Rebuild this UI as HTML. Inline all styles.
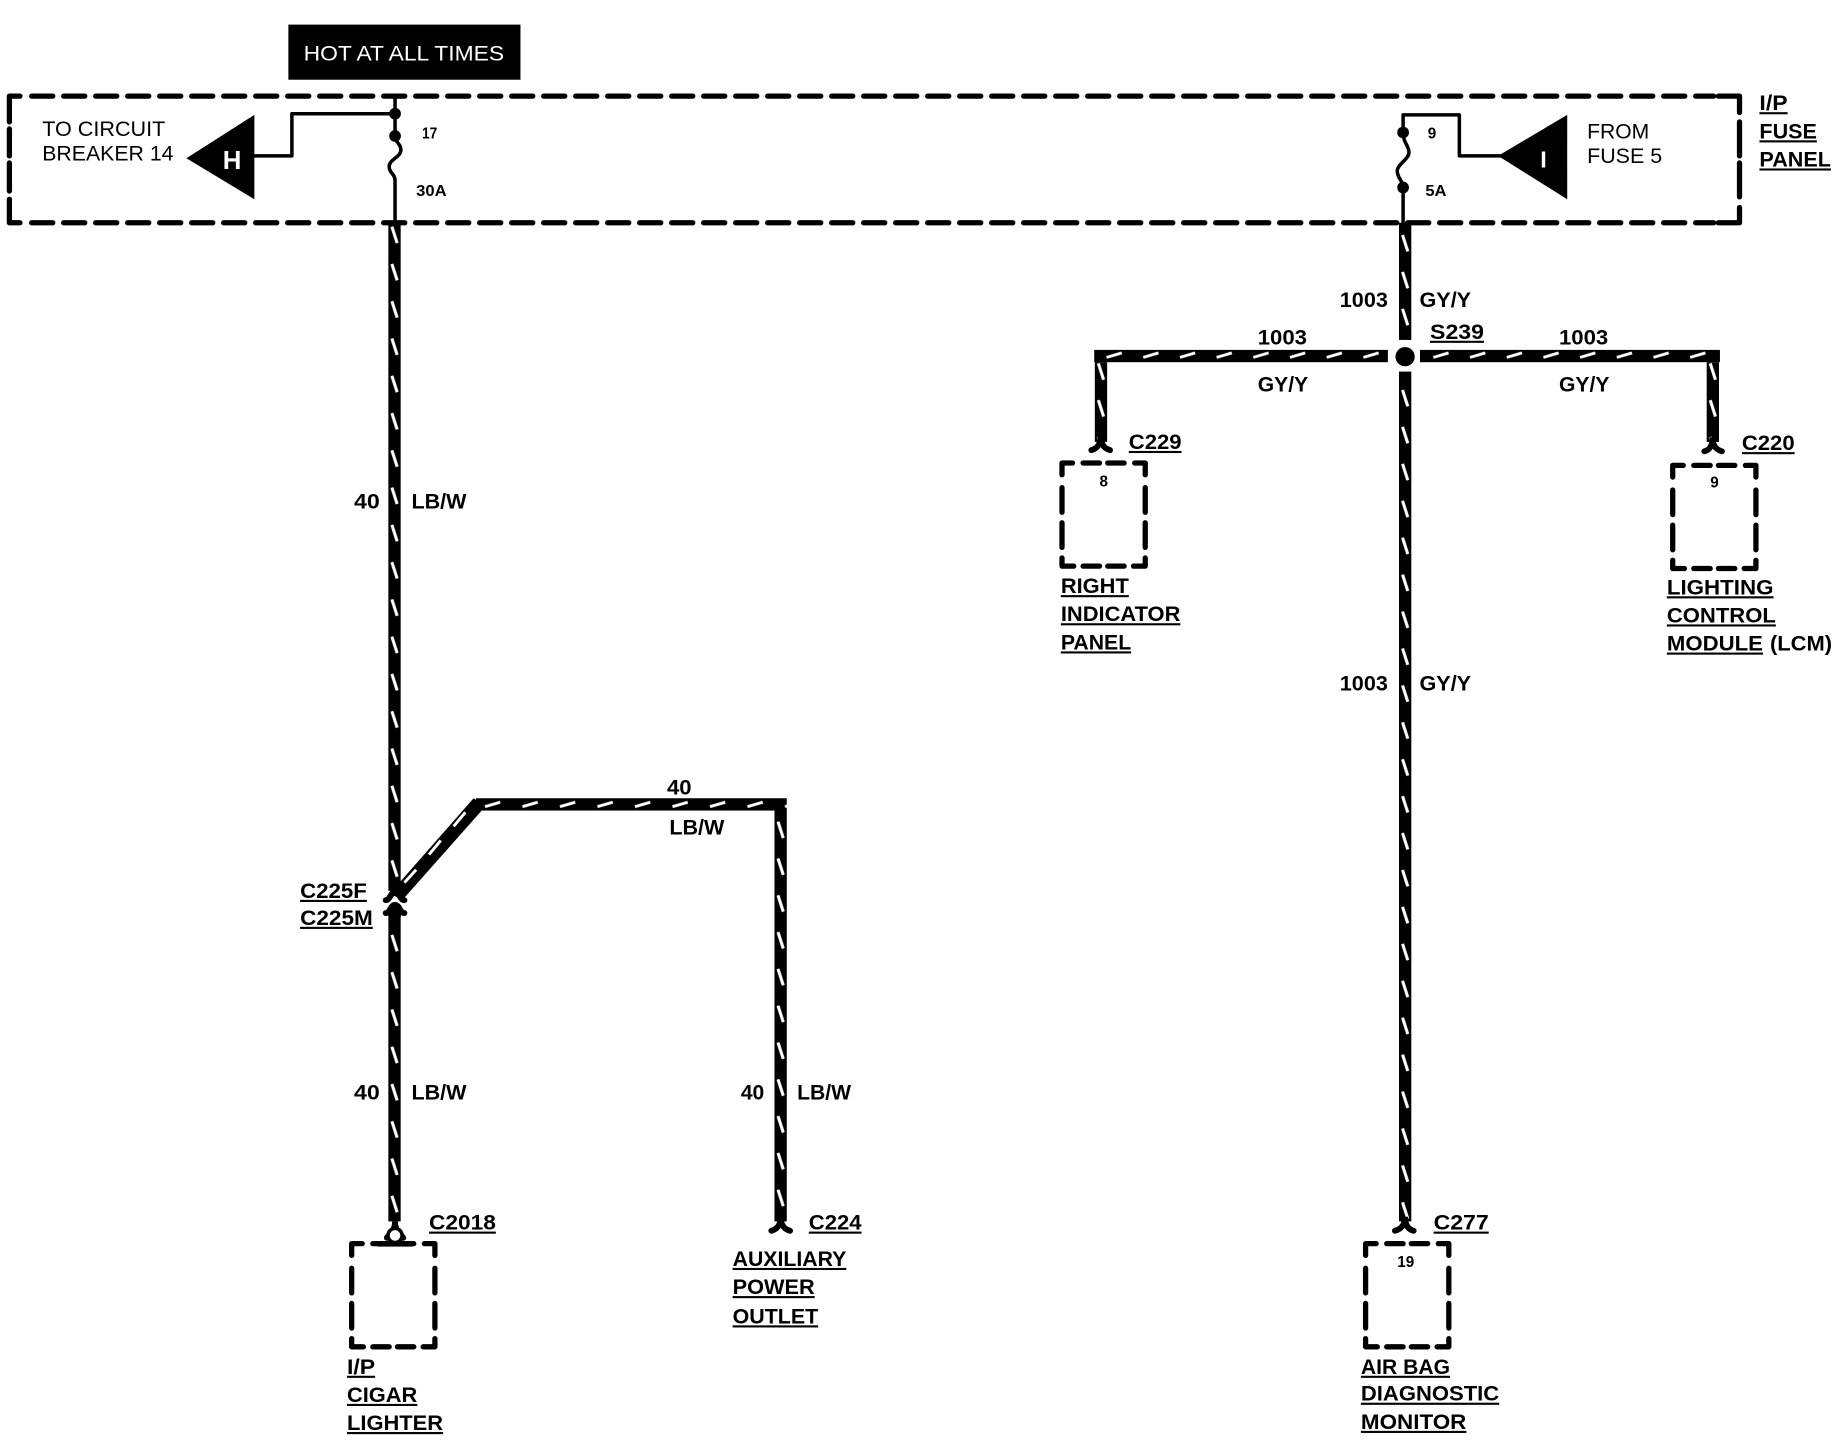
<!DOCTYPE html>
<html><head><meta charset="utf-8"><style>
html,body{margin:0;padding:0;background:#fff}
svg{display:block}
text{font-family:"Liberation Sans",sans-serif;fill:#000;font-size:18px}
.b{font-weight:bold}
.u{font-weight:bold;text-decoration:underline}
.s{font-size:13px;font-weight:bold}
.d{fill:none;stroke:#000;stroke-width:4.5;stroke-linecap:round;stroke-linejoin:round}
.dh{fill:none;stroke:#000;stroke-width:4.5;stroke-dasharray:18 9.3;stroke-linecap:round}
.n{fill:none;stroke:#000;stroke-width:3;stroke-linecap:round;stroke-linejoin:round}
.f{fill:none;stroke:#000;stroke-width:5;stroke-linecap:round}
</style></head><body>
<svg width="1838" height="1440" viewBox="0 0 1568 1228.500" xmlns="http://www.w3.org/2000/svg">
<defs>
<pattern id="v1" patternUnits="userSpaceOnUse" x="331.300" y="188.400" width="10.500" height="31.800"><rect width="10.500" height="31.800" fill="#000"/><line x1="3" y1="5" x2="7.500" y2="19" stroke="#fff" stroke-width="2.600"/></pattern>
<pattern id="v2" patternUnits="userSpaceOnUse" x="1193.500" y="195.500" width="10.500" height="31.500"><rect width="10.500" height="31.500" fill="#000"/><line x1="3" y1="5" x2="7.500" y2="19" stroke="#fff" stroke-width="2.600"/></pattern>
<pattern id="v2b" patternUnits="userSpaceOnUse" x="1193.500" y="327.700" width="10.500" height="31.500"><rect width="10.500" height="31.500" fill="#000"/><line x1="3" y1="5" x2="7.500" y2="19" stroke="#fff" stroke-width="2.600"/></pattern>
<pattern id="v3" patternUnits="userSpaceOnUse" x="660.700" y="696" width="10.500" height="31.400"><rect width="10.500" height="31.400" fill="#000"/><line x1="3" y1="5" x2="7.500" y2="19" stroke="#fff" stroke-width="2.600"/></pattern>
<pattern id="v4" patternUnits="userSpaceOnUse" x="934" y="305" width="10.500" height="31.400"><rect width="10.500" height="31.400" fill="#000"/><line x1="3" y1="5" x2="7.500" y2="19" stroke="#fff" stroke-width="2.600"/></pattern>
<pattern id="v5" patternUnits="userSpaceOnUse" x="1456" y="305" width="10.500" height="31.400"><rect width="10.500" height="31.400" fill="#000"/><line x1="3" y1="5" x2="7.500" y2="19" stroke="#fff" stroke-width="2.600"/></pattern>
<pattern id="h1" patternUnits="userSpaceOnUse" x="940" y="298.500" width="31.300" height="10.500"><rect width="31.300" height="10.500" fill="#000"/><line x1="4" y1="6.400" x2="17" y2="2.600" stroke="#fff" stroke-width="2.500"/></pattern>
<pattern id="h3" patternUnits="userSpaceOnUse" x="1218.800" y="298.500" width="31.300" height="10.500"><rect width="31.300" height="10.500" fill="#000"/><line x1="4" y1="6.400" x2="17" y2="2.600" stroke="#fff" stroke-width="2.500"/></pattern>
<pattern id="h2" patternUnits="userSpaceOnUse" x="409.700" y="681" width="32" height="10.500"><rect width="32" height="10.500" fill="#000"/><line x1="4" y1="7.200" x2="17" y2="3.400" stroke="#fff" stroke-width="2.500"/></pattern>
<path id="bx" class="d" d="M0 10V0H9M18 0H32M39 0H53M62 0H71V10M0 21V42M71 21V42M0 51V72M71 51V72M0 81V88H10M71 81V88H61M18 88H32M39 88H53"/>
</defs>

<!-- header tag -->
<rect x="246" y="21" width="198" height="47" fill="#000"/>
<text x="259" y="51.500" style="fill:#fff" textLength="171" lengthAdjust="spacingAndGlyphs">HOT AT ALL TIMES</text>

<!-- fuse panel box -->
<path class="dh" d="M27 82H1462"/>
<path class="dh" d="M27 190H1462"/>
<path class="d" d="M8 104V82H17M8 110V133M8 139V163M8 170V190H17M1466 82H1484V96M1484 104V133M1484 139V168M1484 177V190H1466"/>

<!-- left fuse -->
<path class="n" d="M337 82V116C337 122 342 122 342 128C342 134 332 136 332 142C332 148 337 148 337 154V190"/>
<path class="n" d="M337 97H249V133H217"/>
<circle cx="337" cy="97" r="5"/><circle cx="337" cy="116" r="5"/>
<polygon points="159,135 217,98 217,170"/>
<text x="190" y="144" class="b" style="fill:#fff;font-size:22px">H</text>
<text x="36" y="116" textLength="105" lengthAdjust="spacingAndGlyphs">TO CIRCUIT</text>
<text x="36" y="137" textLength="112" lengthAdjust="spacingAndGlyphs">BREAKER 14</text>
<text x="360" y="118" class="s" textLength="13" lengthAdjust="spacingAndGlyphs">17</text>
<text x="355" y="167" class="s" textLength="26" lengthAdjust="spacingAndGlyphs">30A</text>

<!-- right fuse -->
<path class="n" d="M1197 190V160C1197 154 1192 152 1192 146C1192 140 1202 136 1202 130C1202 124 1197 122 1197 113V98H1245V133H1280"/>
<circle cx="1197" cy="113" r="5"/><circle cx="1197" cy="160" r="5"/>
<polygon points="1278,133 1337,98 1337,170"/>
<text x="1314" y="143" class="b" style="fill:#fff;font-size:20px">I</text>
<text x="1354" y="118" textLength="53" lengthAdjust="spacingAndGlyphs">FROM</text>
<text x="1354" y="139" textLength="64" lengthAdjust="spacingAndGlyphs">FUSE 5</text>
<text x="1218" y="118" class="s">9</text>
<text x="1216" y="167" class="s" textLength="18" lengthAdjust="spacingAndGlyphs">5A</text>
<text x="1501" y="94" class="u" textLength="24" lengthAdjust="spacingAndGlyphs">I/P</text>
<text x="1501" y="118" class="u" textLength="49" lengthAdjust="spacingAndGlyphs">FUSE</text>
<text x="1501" y="142" class="u" textLength="61" lengthAdjust="spacingAndGlyphs">PANEL</text>

<!-- left wires -->
<rect x="331.300" y="190" width="10.500" height="570" fill="url(#v1)"/>
<rect x="331.300" y="778" width="10.500" height="264" fill="url(#v1)"/>
<polygon points="332,763 404,681 414,688 344,767" fill="#000"/>
<line x1="345" y1="753" x2="355" y2="742" stroke="#fff" stroke-width="2.500"/>
<line x1="366" y1="729" x2="376" y2="717" stroke="#fff" stroke-width="2.500"/>
<line x1="387" y1="705" x2="397" y2="693" stroke="#fff" stroke-width="2.500"/>
<rect x="406" y="681" width="265.200" height="10.500" fill="url(#h2)"/>
<rect x="660.700" y="691" width="10.500" height="351" fill="url(#v3)"/>
<path class="f" d="M329 768C333 768 333 761 337 761C341 761 341 768 345 768"/>
<path class="f" d="M329 779C333 779 333 772 337 772C341 772 341 779 345 779"/>
<rect x="332" y="772" width="10" height="10" fill="#000"/>
<text x="256" y="766" class="u" textLength="57" lengthAdjust="spacingAndGlyphs">C225F</text>
<text x="256" y="789" class="u" textLength="62" lengthAdjust="spacingAndGlyphs">C225M</text>
<text x="569" y="678" class="b" textLength="21" lengthAdjust="spacingAndGlyphs">40</text>
<text x="571" y="712" class="b" textLength="47" lengthAdjust="spacingAndGlyphs">LB/W</text>
<text x="302" y="434" class="b" textLength="22" lengthAdjust="spacingAndGlyphs">40</text>
<text x="351" y="434" class="b" textLength="47" lengthAdjust="spacingAndGlyphs">LB/W</text>
<text x="302" y="938" class="b" textLength="22" lengthAdjust="spacingAndGlyphs">40</text>
<text x="351" y="938" class="b" textLength="47" lengthAdjust="spacingAndGlyphs">LB/W</text>
<text x="632" y="938" class="b" textLength="20" lengthAdjust="spacingAndGlyphs">40</text>
<text x="680" y="938" class="b" textLength="46" lengthAdjust="spacingAndGlyphs">LB/W</text>

<!-- bottom left connectors -->
<use href="#bx" x="300" y="1061"/>
<rect x="322" y="1059" width="30" height="4.500" fill="#000"/>
<path class="f" d="M330 1056C333 1052 337 1050 337 1042C337 1050 341 1052 344 1056"/>
<circle cx="337" cy="1054" r="6" fill="#fff" stroke="#000" stroke-width="3"/>
<text x="366" y="1049" class="u" textLength="57" lengthAdjust="spacingAndGlyphs">C2018</text>
<text x="296" y="1172" class="u" textLength="24" lengthAdjust="spacingAndGlyphs">I/P</text>
<text x="296" y="1196" class="u" textLength="60" lengthAdjust="spacingAndGlyphs">CIGAR</text>
<text x="296" y="1220" class="u" textLength="82" lengthAdjust="spacingAndGlyphs">LIGHTER</text>
<path class="f" d="M658 1050C662 1049 666 1046 666 1038C666 1046 670 1049 674 1050"/>
<text x="690" y="1049" class="u" textLength="45" lengthAdjust="spacingAndGlyphs">C224</text>
<text x="625" y="1080" class="u" textLength="97" lengthAdjust="spacingAndGlyphs">AUXILIARY</text>
<text x="625" y="1104" class="u" textLength="70" lengthAdjust="spacingAndGlyphs">POWER</text>
<text x="625" y="1129" class="u" textLength="73" lengthAdjust="spacingAndGlyphs">OUTLET</text>

<!-- right wires -->
<rect x="1193.500" y="190" width="10.500" height="100" fill="url(#v2)"/>
<rect x="1193.500" y="317" width="10.500" height="725" fill="url(#v2b)"/>
<circle cx="1198.700" cy="304.300" r="8.200"/>
<rect x="933.500" y="298.500" width="250.500" height="10.500" fill="url(#h1)"/>
<rect x="1211.400" y="298.500" width="255.900" height="10.500" fill="url(#h3)"/>
<rect x="934" y="309" width="10.500" height="68" fill="url(#v4)"/>
<rect x="1456" y="309" width="10.500" height="68" fill="url(#v5)"/>
<path class="f" d="M931 384C935 383 939 380 939 372C939 380 943 383 947 384"/>
<path class="f" d="M1454 385C1458 384 1461 381 1461 373C1461 381 1465 384 1469 385"/>
<path class="f" d="M1190 1050C1194 1049 1198.700 1046 1198.700 1038C1198.700 1046 1202 1049 1206 1050"/>
<use href="#bx" x="906" y="395"/>
<use href="#bx" x="1427" y="397"/>
<use href="#bx" x="1165" y="1061"/>

<text x="1143" y="262" class="b" textLength="41" lengthAdjust="spacingAndGlyphs">1003</text>
<text x="1211" y="262" class="b" textLength="44" lengthAdjust="spacingAndGlyphs">GY/Y</text>
<text x="1220" y="289" class="u" textLength="46" lengthAdjust="spacingAndGlyphs">S239</text>
<text x="1073" y="294" class="b" textLength="42" lengthAdjust="spacingAndGlyphs">1003</text>
<text x="1073" y="334" class="b" textLength="43" lengthAdjust="spacingAndGlyphs">GY/Y</text>
<text x="1330" y="294" class="b" textLength="42" lengthAdjust="spacingAndGlyphs">1003</text>
<text x="1330" y="334" class="b" textLength="43" lengthAdjust="spacingAndGlyphs">GY/Y</text>
<text x="1143" y="589" class="b" textLength="41" lengthAdjust="spacingAndGlyphs">1003</text>
<text x="1211" y="589" class="b" textLength="44" lengthAdjust="spacingAndGlyphs">GY/Y</text>

<text x="963" y="383" class="u" textLength="45" lengthAdjust="spacingAndGlyphs">C229</text>
<text x="1486" y="384" class="u" textLength="45" lengthAdjust="spacingAndGlyphs">C220</text>
<text x="1223" y="1049" class="u" textLength="47" lengthAdjust="spacingAndGlyphs">C277</text>
<text x="938" y="415" class="s">8</text>
<text x="1459" y="416" class="s">9</text>
<text x="1192" y="1081" class="s">19</text>

<text x="905" y="506" class="u" textLength="58" lengthAdjust="spacingAndGlyphs">RIGHT</text>
<text x="905" y="530" class="u" textLength="102" lengthAdjust="spacingAndGlyphs">INDICATOR</text>
<text x="905" y="554" class="u" textLength="60" lengthAdjust="spacingAndGlyphs">PANEL</text>
<text x="1422" y="507" class="u" textLength="91" lengthAdjust="spacingAndGlyphs">LIGHTING</text>
<text x="1422" y="531" class="u" textLength="93" lengthAdjust="spacingAndGlyphs">CONTROL</text>
<text x="1422" y="555" class="u" textLength="82" lengthAdjust="spacingAndGlyphs">MODULE</text>
<text x="1510" y="555" class="b" textLength="53" lengthAdjust="spacingAndGlyphs">(LCM)</text>
<text x="1161" y="1172" class="u" textLength="76" lengthAdjust="spacingAndGlyphs">AIR BAG</text>
<text x="1161" y="1195" class="u" textLength="118" lengthAdjust="spacingAndGlyphs">DIAGNOSTIC</text>
<text x="1161" y="1219" class="u" textLength="90" lengthAdjust="spacingAndGlyphs">MONITOR</text>
</svg>
</body></html>
